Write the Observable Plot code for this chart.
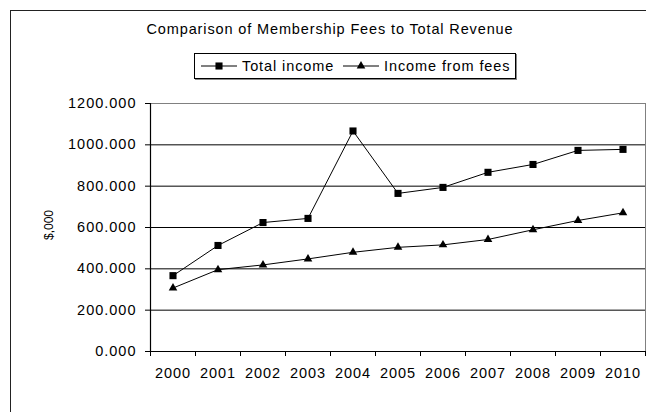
<!DOCTYPE html>
<html>
<head>
<meta charset="utf-8">
<script src="https://cdn.jsdelivr.net/npm/d3@7"></script>
<script src="https://cdn.jsdelivr.net/npm/@observablehq/plot@0.6"></script>
<style>
  html, body { margin: 0; padding: 0; background: #fff; }
  #wrap { position: relative; width: 646px; height: 412px; overflow: hidden; font-family: "Liberation Sans", Arial, sans-serif; color: #000; }
  #frame { position: absolute; left: 10px; top: 10px; width: 700px; height: 500px; border-left: 1.5px solid #222; border-top: 1.5px solid #222; }
  #title { position: absolute; left: 0; width: 660px; top: 21px; text-align: center; font-size: 14.5px; letter-spacing: 0.87px; white-space: nowrap; }
  #legend { position: absolute; left: 194px; top: 53px; width: 320px; height: 24px; border: 1px solid #000; box-shadow: 1px 1px 0 #888; font-size: 14.5px; letter-spacing: 0.9px; white-space: nowrap; }
  #legend .item { position: absolute; top: 0; height: 24px; display: flex; align-items: center; }
  #legend svg { display: block; }
  #ylabel { position: absolute; left: 49px; top: 225px; transform: translate(-50%, -50%) rotate(-90deg); font-size: 12px; white-space: nowrap; }
  #chart { position: absolute; left: 0; top: 0; }
  #chart svg text { font-size: 14.5px; letter-spacing: 1px; fill: #000; }
</style>
</head>
<body>
<div id="wrap">
  <div id="frame"></div>
  <div id="chart"></div>
  <div id="title"></div>
  <div id="legend"></div>
  <div id="ylabel"></div>
</div>
<script>
const titleText = "Comparison of Membership Fees to Total Revenue";
const yLabel = "$,000";
const years = ["2000","2001","2002","2003","2004","2005","2006","2007","2008","2009","2010"];
const totalIncome = [367, 513, 624, 644, 1067, 765, 794, 867, 905, 973, 978];
const feeIncome = [307, 396, 419, 448, 480, 504, 516, 542, 589, 634, 671];
const seriesNames = ["Total income", "Income from fees"];
const seriesSymbols = ["square", "triangle"];
const yTicks = [0, 200, 400, 600, 800, 1000, 1200];

const rows = [];
years.forEach((yr, i) => {
  rows.push({series: seriesNames[0], idx: i + 0.5, year: yr, value: totalIncome[i]});
  rows.push({series: seriesNames[1], idx: i + 0.5, year: yr, value: feeIncome[i]});
});
const centers = years.map((_, i) => i + 0.5);
const bounds = d3.range(years.length + 1);

const W = 646, H = 412;
const chart = Plot.plot({
  width: W,
  height: H,
  marginTop: 103,
  marginBottom: 61,
  marginLeft: 150,
  marginRight: 1,
  style: {fontFamily: "'Liberation Sans', Arial, sans-serif", fontSize: "14.5px", background: "transparent", overflow: "visible"},
  x: {type: "linear", domain: [0, years.length], axis: null},
  y: {type: "linear", domain: [0, 1200], axis: null},
  marks: [
    Plot.ruleY(yTicks.filter(d => d > 0 && d < 1200), {stroke: "#000", strokeWidth: 1}),
    Plot.ruleY([1200], {stroke: "#808080", strokeWidth: 1}),
    Plot.ruleX([years.length], {stroke: "#808080", strokeWidth: 1}),
    Plot.ruleY([0], {stroke: "#000", strokeWidth: 1}),
    Plot.ruleX([0], {stroke: "#000", strokeWidth: 1.2}),
    Plot.axisY({ticks: yTicks, tickSize: 5, tickPadding: 9, tickFormat: d3.format(".3f"), label: null}),
    Plot.axisX({ticks: bounds, tickSize: 5, tickFormat: () => "", label: null}),
    Plot.axisX({ticks: centers, tickSize: 0, tickPadding: 16, tickFormat: d => years[Math.floor(d)], label: null}),
    Plot.line(rows, {x: "idx", y: "value", z: "series", stroke: "#000", strokeWidth: 1}),
    Plot.dot(rows.filter(d => d.series === seriesNames[0]), {x: "idx", y: "value", symbol: () => seriesSymbols[0], r: 4, fill: "#000", stroke: "none"}),
    Plot.dot(rows.filter(d => d.series === seriesNames[1]), {x: "idx", y: "value", symbol: () => seriesSymbols[1], r: 3.2, fill: "#000", stroke: "none"})
  ]
});
document.getElementById("chart").appendChild(chart);

document.getElementById("title").textContent = titleText;
document.getElementById("ylabel").textContent = yLabel;

const legend = document.getElementById("legend");
const itemLefts = [6, 148];
seriesNames.forEach((name, i) => {
  const item = document.createElement("div");
  item.className = "item";
  item.style.left = itemLefts[i] + "px";
  const sw = d3.create("svg").attr("width", 36).attr("height", 12);
  sw.append("line").attr("x1", 0).attr("x2", 36).attr("y1", 6).attr("y2", 6).attr("stroke", "#000").attr("stroke-width", 1);
  const sym = seriesSymbols[i] === "square" ? d3.symbolSquare : d3.symbolTriangle;
  const size = seriesSymbols[i] === "square" ? Math.PI * 16 : Math.PI * 3.2 * 3.2;
  sw.append("path").attr("d", d3.symbol(sym, size)()).attr("transform", "translate(18,6)").attr("fill", "#000");
  item.appendChild(sw.node());
  const label = document.createElement("span");
  label.textContent = name;
  label.style.marginLeft = "5px";
  item.appendChild(label);
  legend.appendChild(item);
});
</script>
</body>
</html>
